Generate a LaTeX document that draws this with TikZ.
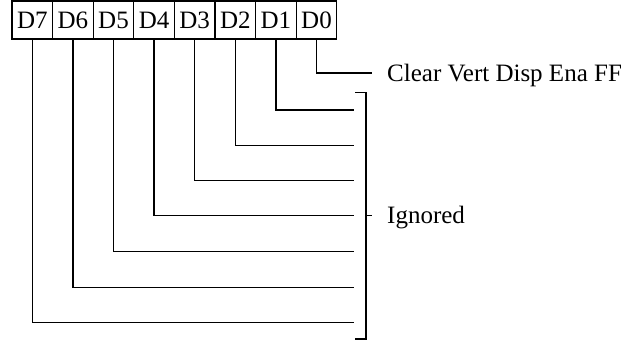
\documentclass[tikz,border=0pt]{standalone}
\usepackage{fontspec}
\setmainfont{Liberation Serif}
\begin{document}
\begin{tikzpicture}[x=1pt,y=-1pt,
  bitbox/.style={draw,line width=1.2pt,minimum width=40.6pt,minimum height=38pt,inner sep=0pt,font=\fontsize{25}{30}\selectfont},
  wire/.style={line width=1.5pt},
  lbl/.style={anchor=base west,inner sep=0pt,font=\fontsize{25}{30}\selectfont}]
\useasboundingbox (0,0) rectangle (644,340);
\foreach \n [count=\k from 0] in {7,6,5,4,3,2,1,0}
  \node[bitbox] (b\n) at ({12+40.6*(\k+0.5)},20) {D\n};
% free ends
\coordinate (e0) at (371.7,73);
\coordinate (e1) at (354,110);
\coordinate (e2) at (354,145.3);
\coordinate (e3) at (354,180.7);
\coordinate (e4) at (354,215.7);
\coordinate (e5) at (354,251.3);
\coordinate (e6) at (354,287.3);
\coordinate (e7) at (354,322.7);
\foreach \n in {0,...,7}
  \draw[wire] (b\n.south) |- (e\n);
% bracket
\coordinate (bt) at (355,92.3);
\coordinate (bb) at (355,339);
\coordinate (bm) at (372,215.7);
\draw[wire] (bt) -- (366,92.3) -- (366,339) -- (bb);
\draw[wire] (366,215.7) -- (bm);
\node[lbl] (t0) at (387,81.7) {Clear Vert Disp Ena FF};
\node[lbl] (t1) at (387,223.3) {Ignored};
\end{tikzpicture}
\end{document}
